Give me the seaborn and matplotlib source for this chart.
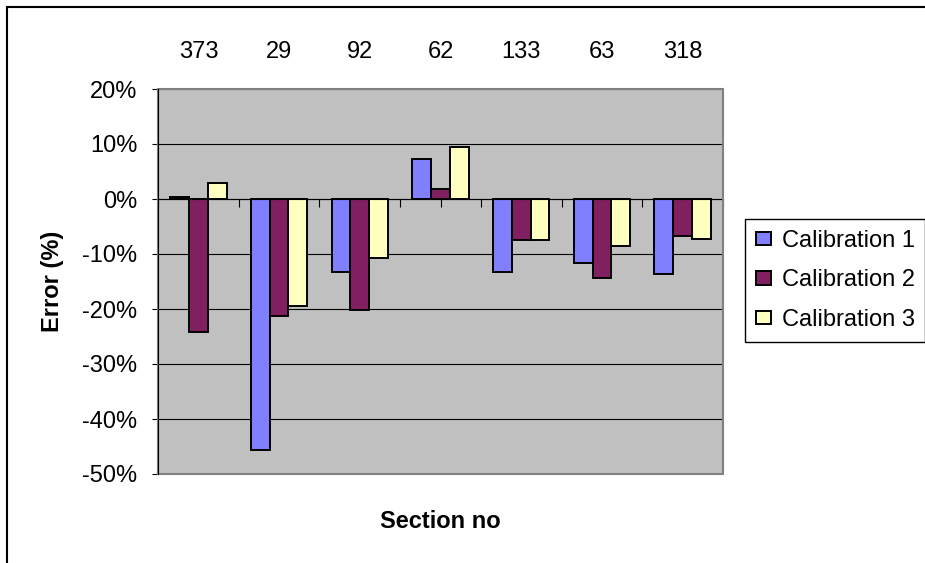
import numpy as np
import pandas as pd
import matplotlib
matplotlib.use("Agg")
import matplotlib.pyplot as plt
from matplotlib.patches import Rectangle
from matplotlib.ticker import FuncFormatter, FixedLocator
import seaborn as sns

# Section numbers and relative error (%) for each calibration
sections = ["373", "29", "92", "62", "133", "63", "318"]
calibration_1 = [0.3, -45.6, -13.3, 7.3, -13.3, -11.7, -13.7]
calibration_2 = [-24.2, -21.3, -20.2, 1.9, -7.5, -14.4, -6.7]
calibration_3 = [2.9, -19.5, -10.8, 9.4, -7.5, -8.5, -7.2]
series_names = ["Calibration 1", "Calibration 2", "Calibration 3"]
y_ticks = [20, 10, 0, -10, -20, -30, -40, -50]

colors = ["#8080FF", "#802060", "#FFFFC0"]

df = pd.DataFrame({
    "section": sections * 3,
    "error": calibration_1 + calibration_2 + calibration_3,
    "calibration": np.repeat(series_names, len(sections)),
})

sns.set_theme(style="white")
plt.rcParams["font.family"] = ["Liberation Sans", "DejaVu Sans"]

W, H = 925, 563
fig = plt.figure(figsize=(W / 100, H / 100), dpi=100)
fig.patch.set_facecolor("white")

left, right, top, bottom = 158, 723, 89, 474
ax = fig.add_axes([left / W, 1 - bottom / H, (right - left) / W, (bottom - top) / H])
ax.set_facecolor("#C0C0C0")

sns.barplot(data=df, x="section", y="error", hue="calibration", order=sections,
            hue_order=series_names, palette=colors, width=0.7,
            edgecolor="black", linewidth=1.4, saturation=1, ax=ax)

ax.set_ylim(-50, 20)
ax.set_xlim(-0.5, len(sections) - 0.5)

# horizontal gridlines behind the bars
for v in y_ticks:
    ax.axhline(v, color="black", lw=0.8, zorder=0.5)

ax.yaxis.set_major_locator(FixedLocator(y_ticks))
ax.yaxis.set_major_formatter(FuncFormatter(lambda v, p: f"{v:.0f}%"))
ax.tick_params(axis="y", which="major", left=True, direction="out", length=4.3,
               width=0.8, color="black", pad=10.5, labelsize=17, labelcolor="black")

# category axis crosses at zero, labels drawn above the plot area
ax.spines["bottom"].set_position(("data", 0))
ax.spines["bottom"].set_color("black")
ax.spines["bottom"].set_linewidth(0.8)
ax.xaxis.set_minor_locator(FixedLocator(np.arange(-0.5, len(sections), 1.0)))
ax.tick_params(axis="x", which="major", bottom=True, top=False, labelbottom=False,
               labeltop=True, direction="out", length=5.5, width=0.8, color="black",
               pad=13.5, labelsize=17, labelcolor="black")
ax.tick_params(axis="x", which="minor", bottom=True, top=False, direction="out",
               length=5.5, width=0.8, color="black")
ax.set_xlabel("")
ax.set_ylabel("")

ax.spines["left"].set_color("black")
ax.spines["left"].set_linewidth(0.8)
for s in ("top", "right"):
    ax.spines[s].set_visible(False)
ax.add_patch(Rectangle((0, 0), 1, 1, transform=ax.transAxes, fill=False,
                       edgecolor="#808080", lw=1.5, zorder=3, clip_on=False))
ax.spines["left"].set_zorder(4)

# axis titles
fig.text(52 / W, 1 - 281 / H, "Error (%)", rotation=90, ha="center", va="center",
         fontsize=17, fontweight="bold", color="black")
fig.text(440 / W, 1 - 522 / H, "Section no", ha="center", va="center",
         fontsize=17, fontweight="bold", color="black")

# legend outside the plot area on the right
handles, labels = ax.get_legend_handles_labels()
if ax.get_legend() is not None:
    ax.get_legend().remove()
leg = fig.legend(handles, labels, loc="upper left",
                 bbox_to_anchor=(745 / W, 1 - 219 / H), frameon=True,
                 fancybox=False, edgecolor="black", framealpha=1, fontsize=17,
                 handlelength=0.65, handleheight=0.5, handletextpad=0.45,
                 borderpad=0.45, labelspacing=0.75, borderaxespad=0)
leg.get_frame().set_linewidth(1.0)
for t in leg.get_texts():
    t.set_color("black")

# chart border
fig.patches.append(Rectangle((7 / W, -0.2), 1.5, 1.2 - 7 / H, transform=fig.transFigure,
                             fill=False, edgecolor="black", lw=1.5, zorder=10))

fig.savefig("out.png", dpi=100)
